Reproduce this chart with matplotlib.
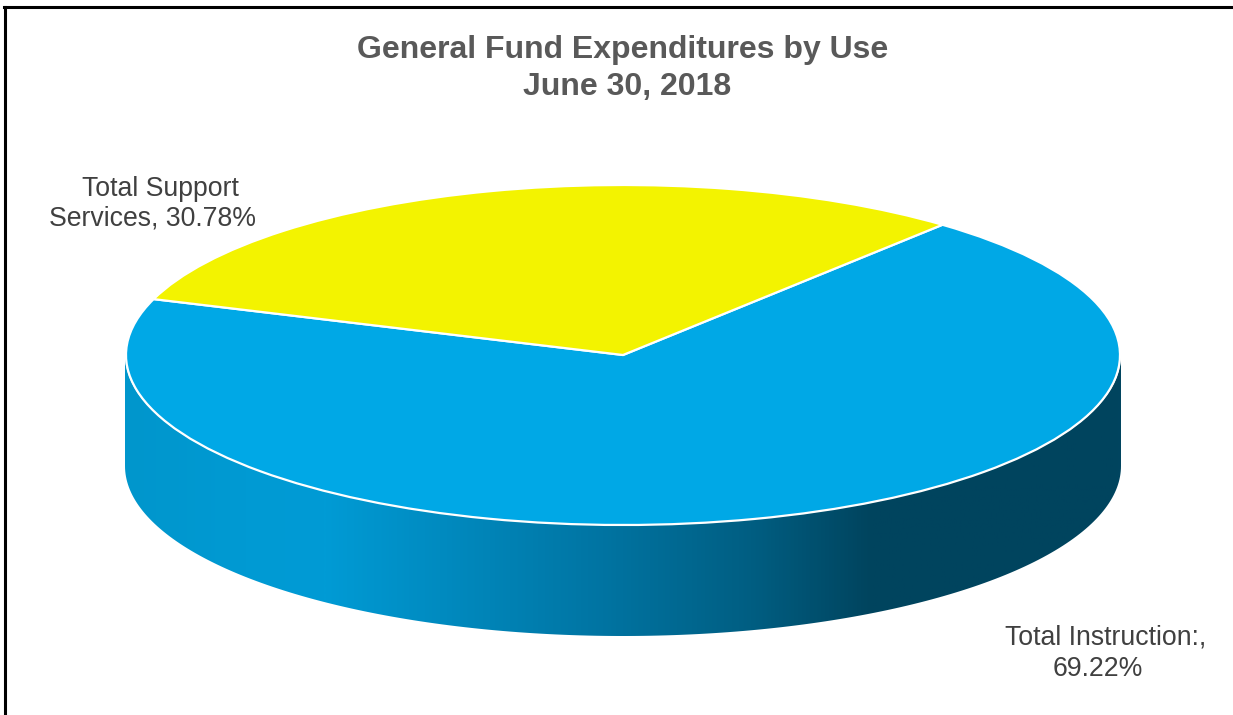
import numpy as np
import matplotlib
matplotlib.use('Agg')
import matplotlib.pyplot as plt
from matplotlib.colors import LinearSegmentedColormap
from matplotlib.patches import PathPatch
from matplotlib.path import Path
from matplotlib.lines import Line2D

W, H = 1233, 715

instruction_label = ['Total Instruction:,', '69.22%']
support_label = ['Total Support', 'Services, 30.78%']
values = [69.22, 30.78]
colors = ['#00A8E6', '#F3F300']
title_lines = ['General Fund Expenditures by Use', 'June 30, 2018']

plt.rcParams['font.family'] = ['Liberation Sans', 'DejaVu Sans']

fig = plt.figure(figsize=(W / 100, H / 100), dpi=100, facecolor='white')
ax = fig.add_axes([0, 0, 1, 1])

# top of the pie is a squashed circle, one data unit = the radius
cx, cy, rx, ry, depth = 623, 355, 497, 170, 111

# yellow slice runs counter clockwise from 50 degrees
start = 50 - values[0] / sum(values) * 360
ax.pie(values, colors=colors, startangle=start, radius=1, center=(0, 0),
       wedgeprops={'edgecolor': 'white', 'linewidth': 1.6}, frame=False)
ax.set_aspect('auto')
ax.axis('off')

# side wall of the cylinder, gradient clipped to the lower half of the rim
d = depth / ry
t = np.linspace(np.pi, 2 * np.pi, 200)
xs = 1.002 * np.cos(t)
ys = np.sin(t)
verts = np.vstack([np.c_[xs, ys - d], np.c_[xs[::-1], ys[::-1]]])
codes = [Path.MOVETO] + [Path.LINETO] * (len(verts) - 1)
wall = PathPatch(Path(verts, codes), transform=ax.transData, fc='none', ec='none')
ax.add_patch(wall)

cmap = LinearSegmentedColormap.from_list('wall', [
    (0.0, '#0096CC'), (0.12, '#009AD3'), (0.20, '#009BD5'), (0.30, '#008DC3'),
    (0.48, '#0074A2'), (0.63, '#005E82'), (0.75, '#00445E'), (1.0, '#00445F')])
grad = np.linspace(0, 1, 512).reshape(1, -1)
im = ax.imshow(grad, cmap=cmap, aspect='auto', zorder=0,
               extent=(-1.002, 1.002, -1 - d, 0.1))
im.set_clip_path(wall)
ax.set_xlim(-cx / rx, (W - cx) / rx)
ax.set_ylim(-(H - cy) / ry, cy / ry)


# text positions are in figure pixels, each line placed on its own
def put(x, y, s, **kw):
    fig.text(x / W, 1 - y / H, s, ha='center', va='center', **kw)


title_style = dict(fontsize=23, fontweight='bold', color='#595959')
label_style = dict(fontsize=19.2, color='#404040')
put(623, 50, title_lines[0], **title_style)
put(627.5, 87, title_lines[1], **title_style)
put(160.5, 189, support_label[0], **label_style)
put(152.5, 218, support_label[1], **label_style)
put(1105.5, 638, instruction_label[0], **label_style)
put(1097.5, 669, instruction_label[1], **label_style)

# border only shows on the top and left edge
fig.add_artist(Line2D([5 / W, 5 / W], [0, 1 - 7 / H], color='black', lw=2.2))
fig.add_artist(Line2D([4 / W, 1], [1 - 7 / H, 1 - 7 / H], color='black', lw=2.2))

fig.savefig('out.png', dpi=100)
